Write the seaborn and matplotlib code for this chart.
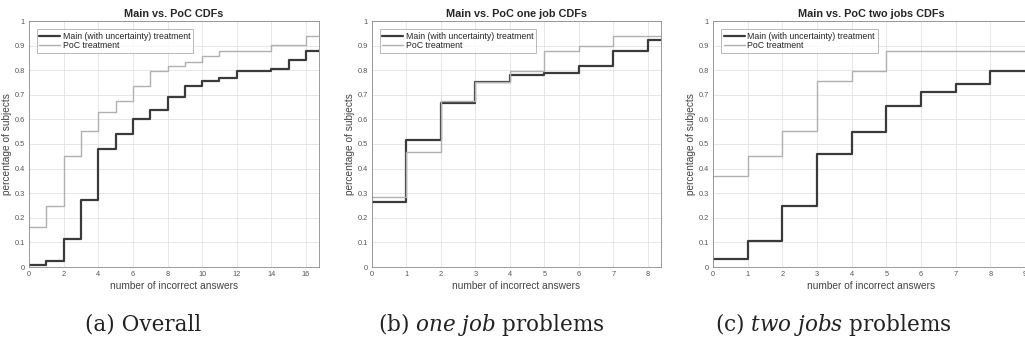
import matplotlib.pyplot as plt
import numpy as np
import pandas as pd
import seaborn as sns

# CDF values, one value per number of incorrect answers (0, 1, 2, ...)
overall_main = [0.007, 0.026, 0.115, 0.273, 0.48, 0.54, 0.60, 0.638, 0.69, 0.736,
                0.755, 0.77, 0.797, 0.797, 0.804, 0.84, 0.877]
overall_poc = [0.162, 0.246, 0.453, 0.553, 0.631, 0.676, 0.736, 0.797, 0.818, 0.834,
               0.857, 0.878, 0.878, 0.878, 0.901, 0.901, 0.939]

onejob_main = [0.265, 0.515, 0.665, 0.754, 0.78, 0.789, 0.816, 0.878, 0.922]
onejob_poc = [0.284, 0.469, 0.674, 0.754, 0.796, 0.877, 0.899, 0.939, 0.939]

twojobs_main = [0.034, 0.107, 0.246, 0.461, 0.55, 0.654, 0.71, 0.745, 0.797, 0.797]
twojobs_poc = [0.368, 0.45, 0.551, 0.755, 0.796, 0.878, 0.878, 0.878, 0.878, 0.878]

titles = ["Main vs. PoC CDFs", "Main vs. PoC one job CDFs", "Main vs. PoC two jobs CDFs"]
series_names = ["Main (with uncertainty) treatment", "PoC treatment"]
xlims = [16.75, 8.38, 9.14]
xsteps = [2, 1, 1]

sns.set_style("whitegrid")
plt.rcParams['font.family'] = ['Liberation Sans', 'DejaVu Sans']
plt.rcParams['mathtext.fontset'] = 'custom'
plt.rcParams['mathtext.it'] = 'DejaVu Serif:italic'
plt.rcParams['mathtext.rm'] = 'DejaVu Serif'

fig = plt.figure(figsize=(10.25, 3.43), dpi=100)
W, H = 1025, 343
boxes = [(29, 290), (372, 289), (713, 317)]
top, bottom = 21, 267

panels = [(overall_main, overall_poc), (onejob_main, onejob_poc), (twojobs_main, twojobs_poc)]
palette = {series_names[0]: "#3a3a3a", series_names[1]: "#b0b0b0"}

for i, (main, poc) in enumerate(panels):
    left, width = boxes[i]
    ax = fig.add_axes([left / W, 1 - bottom / H, width / W, (bottom - top) / H])
    rows = []
    for name, vals in zip(series_names, [main, poc]):
        # repeat the last value one step further so the stair runs to the axis edge
        ext = list(vals) + [vals[-1]]
        for x, v in enumerate(ext):
            rows.append({"x": x, "y": v, "series": name})
    df = pd.DataFrame(rows)
    sns.lineplot(data=df, x="x", y="y", hue="series", palette=palette,
                 drawstyle="steps-post", ax=ax, legend=False)
    ax.lines[0].set_linewidth(1.6)
    ax.lines[1].set_linewidth(1.0)
    ax.plot([], [], color=palette[series_names[0]], lw=1.6, label=series_names[0])
    ax.plot([], [], color=palette[series_names[1]], lw=1.0, label=series_names[1])
    leg = ax.legend(loc="upper left", fontsize=6.3, frameon=True, fancybox=False,
                    borderpad=0.3, handlelength=2.4, handletextpad=0.3, labelspacing=0.05,
                    bbox_to_anchor=(0.012, 0.985))
    leg.get_frame().set_edgecolor("#9a9a9a")
    leg.get_frame().set_linewidth(0.6)

    ax.set_xlim(0, xlims[i])
    ax.set_ylim(0, 1)
    ax.set_xticks(np.arange(0, xlims[i] + 0.01, xsteps[i]))
    ax.set_yticks(np.arange(0, 1.01, 0.1))
    ax.set_yticklabels(["0"] + [f"{v:.1f}" for v in np.arange(0.1, 1.0, 0.1)] + ["1"])
    ax.tick_params(labelsize=5.3, colors="#555555", length=2, direction="in", pad=3)
    ax.grid(True, color="#e3e3e3", lw=0.6)
    for s in ax.spines.values():
        s.set_color("#8a8a8a")
        s.set_linewidth(0.6)
    ax.set_title(titles[i], fontsize=7.8, fontweight="bold", pad=3)
    ax.set_xlabel("number of incorrect answers", fontsize=7.3, color="#444444", labelpad=2)
    ax.set_ylabel("percentage of subjects", fontsize=7.3, color="#444444", labelpad=2)

# sub-figure captions
cap_kw = dict(fontsize=15.5, family="DejaVu Serif", va="center", color="#222222")
fig.text(85 / W, 1 - 325 / H, "(a) Overall", **cap_kw)
fig.text(378 / W, 1 - 325 / H, "(b) $\\mathit{one\\ job}$ problems", **cap_kw)
fig.text(715 / W, 1 - 325 / H, "(c) $\\mathit{two\\ jobs}$ problems", **cap_kw)

fig.savefig("out.png", dpi=100)
